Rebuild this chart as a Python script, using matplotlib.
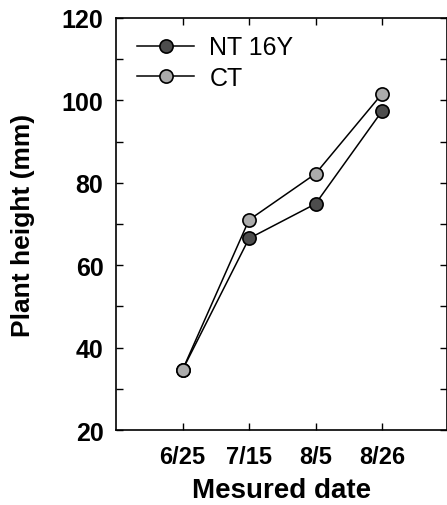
import numpy as np
import matplotlib.pyplot as plt

dates = ['6/25', '7/15', '8/5', '8/26']
nt16y = [34.6, 66.5, 74.9, 97.4]
ct = [34.6, 71.0, 82.2, 101.6]

plt.rcParams['font.family'] = ['Liberation Sans', 'DejaVu Sans']

fig = plt.figure(figsize=(4.47, 5.06), dpi=100)
ax = fig.add_axes([0.2595, 0.148, 0.7395, 0.8145])

x = np.arange(len(dates))
ax.plot(x, nt16y, '-o', color='black', lw=1.1, ms=9.5, mfc='#4d4d4d',
        mec='black', mew=1.2, label='NT 16Y', zorder=3)
ax.plot(x, ct, '-o', color='black', lw=1.1, ms=9.5, mfc='#ababab',
        mec='black', mew=1.2, label='CT', zorder=3)

ax.set_xlim(-1, 3.97)
ax.set_ylim(20, 120)
ax.set_xticks(x)
ax.set_xticklabels(dates)
ax.set_yticks(np.arange(20, 121, 20))
ax.set_yticks(np.arange(30, 120, 20), minor=True)

ax.tick_params(direction='in', top=True, right=True, length=5, width=1,
               labelsize=18)
ax.tick_params(axis='x', pad=11, labelsize=17)
ax.tick_params(axis='y', pad=9)
ax.tick_params(which='minor', direction='in', right=True, length=5, width=1)
for lab in ax.get_xticklabels() + ax.get_yticklabels():
    lab.set_fontweight('bold')
for s in ax.spines.values():
    s.set_linewidth(1.2)

ax.set_xlabel('Mesured date', fontsize=20, fontweight='bold', labelpad=6.5)
ax.set_ylabel('Plant height (mm)', fontsize=19, fontweight='bold', labelpad=19)

ax.legend(loc='upper left', frameon=False, fontsize=18, handlelength=2.3,
          handletextpad=0.6, borderaxespad=0.3, labelspacing=0.25,
          bbox_to_anchor=(0.01, 1.0))

fig.savefig('out.png', dpi=100)
